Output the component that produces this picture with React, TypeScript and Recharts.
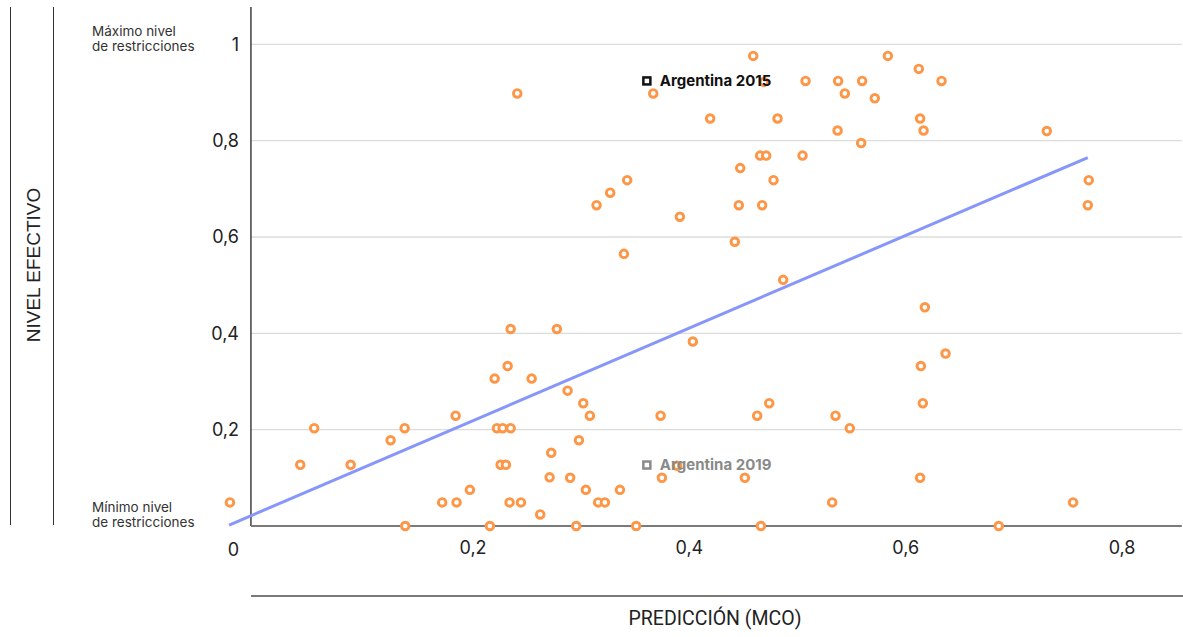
import React from 'react';
import { ScatterChart, Scatter, XAxis, YAxis, ReferenceLine } from 'recharts';

// Predicción (MCO) for each country/year
const prediccion = [
  0.459, 0.3666, 0.4689, 0.5074, 0.5375, 0.5597, 0.5437, 0.5835, 0.6121, 0.6331, 0.5714,
  0.4192, 0.4815, 0.6133,
  0.537, 0.6165,
  0.5588,
  0.4654, 0.471, 0.5046,
  0.447,
  0.3425, 0.4778,
  0.3268,
  0.3142, 0.4457, 0.4673,
  0.3912,
  0.2409,
  0.7304,
  0.7692,
  0.7683,
  0.442, 0.3395, 0.4867, 0.6177, 0.2775, 0.2348, 0.4032, 0.6368, 0.614, 0.232, 0.22, 0.2542, 0.2874,
  0.3019, 0.4738, 0.6158,
  0.308, 0.3734, 0.4627, 0.5351, 0.1839,
  0.5483, 0.0532, 0.1368, 0.2221, 0.2274, 0.2348,
  0.1238, 0.2979,
  0.2723,
  0.0403, 0.0869, 0.2255, 0.2304,
  0.3887,
  0.2708,
  0.2898, 0.3746, 0.4513, 0.6133,
  0.1971, 0.3043, 0.3358,
  -0.0247, 0.1715, 0.1848, 0.2338, 0.2443, 0.3157, 0.3219, 0.532, 0.7547,
  0.2621,
  0.1373, 0.2156, 0.2954, 0.3508, 0.4661, 0.686,
];

// Nivel efectivo de restricciones
const nivelEfectivo = [
  0.976, 0.898, 0.922, 0.924, 0.924, 0.924, 0.898, 0.976, 0.949, 0.924, 0.888,
  0.846, 0.846, 0.846,
  0.821, 0.821,
  0.795,
  0.769, 0.769, 0.769,
  0.743,
  0.718, 0.718,
  0.692,
  0.666, 0.666, 0.666,
  0.642,
  0.898,
  0.82,
  0.718,
  0.666,
  0.59, 0.565, 0.511, 0.454, 0.409, 0.409, 0.383, 0.358, 0.332, 0.332, 0.306, 0.306, 0.281,
  0.255, 0.255, 0.255,
  0.229, 0.229, 0.229, 0.229, 0.229,
  0.203, 0.203, 0.203, 0.203, 0.203, 0.203,
  0.178, 0.178,
  0.152,
  0.127, 0.127, 0.127, 0.127,
  0.125,
  0.101,
  0.1, 0.1, 0.1, 0.1,
  0.075, 0.075, 0.075,
  0.049, 0.049, 0.049, 0.049, 0.049, 0.049, 0.049, 0.049, 0.049,
  0.024,
  0, 0, 0, 0, 0, 0,
];

// Highlighted points
const argentinaLabels = ['Argentina 2015', 'Argentina 2019'];
const argentinaPrediccion = [0.3607, 0.3607];
const argentinaNivel = [0.924, 0.1266];
const argentinaColors = ['#111111', '#8a8a8a'];

// Regression line end points
const trendX = [-0.0255, 0.7683];
const trendY = [0.002, 0.765];

const xTicks = [0.2, 0.4, 0.6, 0.8];
const yTicks = [0, 0.2, 0.4, 0.6, 0.8, 1];
const gridValues = [0.2, 0.4, 0.6, 0.8, 1];

const X_MIN = -0.0302;
const X_MAX = 0.8552;
const Y_MIN = 0;
const Y_MAX = 1.0775;
const AXIS_X = -0.0053;

const fmt = (v: number) => String(v).replace('.', ',');

const points = nivelEfectivo.map((y, i) => ({ x: prediccion[i], y }));
const argentina = argentinaLabels.map((label, i) => ({
  x: argentinaPrediccion[i],
  y: argentinaNivel[i],
  label,
  idx: i,
}));
const trend = trendX.map((x, i) => ({ x, y: trendY[i] }));

const TICK_FONT = 'Inter, "Noto Sans", sans-serif';

const YTick = (props: any) => {
  const { x, y, payload } = props;
  const v = payload.value as number;
  return (
    <text
      x={x + 15}
      y={v === 0 ? y + 24 : y}
      dy="0.35em"
      textAnchor="end"
      fontFamily={TICK_FONT}
      fontSize={18}
      fill="#222"
    >
      {fmt(v)}
    </text>
  );
};

const Dot = (p: any) => (
  <circle cx={p.cx} cy={p.cy} r={3.8} fill="#ffffff" stroke="#fd9646" strokeWidth={2.9} />
);

const ArgMarker = (p: any) => {
  const color = argentinaColors[p.payload.idx];
  return (
    <g>
      <rect x={p.cx - 3.5} y={p.cy - 3.5} width={7} height={7} fill="#fff" stroke={color} strokeWidth={2.5} />
      <text
        x={p.cx + 13}
        y={p.cy}
        dy="0.35em"
        fontFamily={TICK_FONT}
        fontWeight={700}
        fontSize={15}
        fill={color}
      >
        {p.payload.label}
      </text>
    </g>
  );
};

export default function App() {
  return (
    <div style={{ position: 'absolute', left: 0, top: 0, width: 1183, height: 637, background: '#fff' }}>
      <ScatterChart width={1183} height={637} margin={{ top: 7, right: 1.2, bottom: 0, left: 0 }}>
        <XAxis
          type="number"
          dataKey="x"
          domain={[X_MIN, X_MAX]}
          ticks={xTicks}
          tickFormatter={fmt}
          axisLine={false}
          tickLine={false}
          tickMargin={9}
          height={111}
          tick={{ fontFamily: TICK_FONT, fontSize: 18, fill: '#222' }}
        />
        <YAxis
          type="number"
          dataKey="y"
          domain={[Y_MIN, Y_MAX]}
          ticks={yTicks}
          axisLine={false}
          tickLine={false}
          tickSize={0}
          tickMargin={0}
          width={224}
          tick={<YTick />}
        />
        {gridValues.map((g) => (
          <ReferenceLine
            key={g}
            segment={[{ x: AXIS_X, y: g }, { x: X_MAX, y: g }]}
            stroke="#dcdcdc"
            strokeWidth={1.3}
          />
        ))}
        <ReferenceLine segment={[{ x: AXIS_X, y: Y_MIN }, { x: AXIS_X, y: Y_MAX }]} stroke="#222" strokeWidth={1.3} />
        <ReferenceLine segment={[{ x: AXIS_X, y: Y_MIN }, { x: X_MAX, y: Y_MIN }]} stroke="#7a7a7a" strokeWidth={2} />
        <Scatter
          data={trend}
          line={{ stroke: '#8796fa', strokeWidth: 3 }}
          shape={() => <g />}
          isAnimationActive={false}
        />
        <Scatter data={points} shape={<Dot />} isAnimationActive={false} />
        <Scatter data={argentina} shape={<ArgMarker />} isAnimationActive={false} />
      </ScatterChart>
      <svg
        width={1183}
        height={637}
        style={{ position: 'absolute', left: 0, top: 0, pointerEvents: 'none' }}
      >
        <line x1={10.5} y1={7} x2={10.5} y2={525} stroke="#333" strokeWidth={1} />
        <line x1={53.5} y1={7} x2={53.5} y2={525} stroke="#333" strokeWidth={1} />
        <text x={33} y={265} transform="rotate(-90 33 265)" textAnchor="middle" dy="0.35em"
          fontFamily='"Liberation Sans", Arial, sans-serif' fontSize={19} fill="#222">
          NIVEL EFECTIVO
        </text>
        <g fontFamily={TICK_FONT} fontSize={13.5} fill="#333">
          <text x={92} y={36}>Máximo nivel</text>
          <text x={92} y={51}>de restricciones</text>
          <text x={92} y={512}>Mínimo nivel</text>
          <text x={92} y={527}>de restricciones</text>
        </g>
        <line x1={251} y1={596} x2={1183} y2={596} stroke="#7a7a7a" strokeWidth={2} />
        <text x={715} y={625} textAnchor="middle"
          fontFamily='Roboto, sans-serif' fontSize={19.5} fill="#222">
          PREDICCIÓN (MCO)
        </text>
      </svg>
    </div>
  );
}
